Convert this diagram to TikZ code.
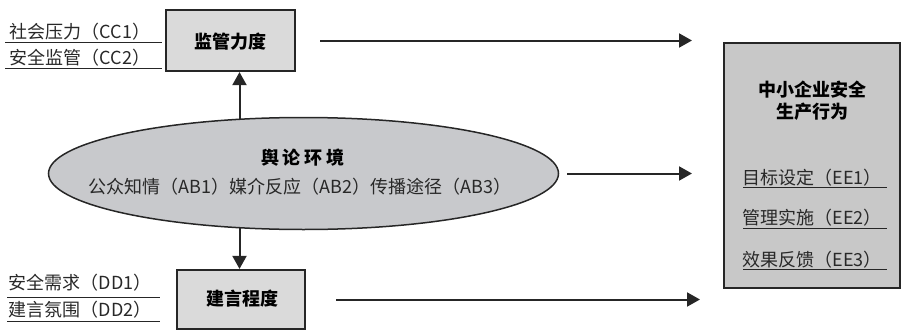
\documentclass[tikz,border=0pt]{standalone}
\usepackage{fontspec}
\newfontfamily\cjk{Noto Sans CJK SC}
\usetikzlibrary{shapes.geometric,arrows.meta}
\definecolor{boxa}{RGB}{218,218,218}
\definecolor{boxb}{RGB}{200,200,200}
\definecolor{ellc}{RGB}{200,201,204}
\definecolor{txt}{RGB}{40,40,40}
\tikzset{
 bx/.style={draw=black!85, line width=2.2pt, inner sep=0pt},
 lbl/.style={font=\cjk\fontsize{18}{18}\selectfont, text=txt, inner sep=0pt},
 ttl/.style={font=\cjk\bfseries\fontsize{18}{18}\selectfont, inner sep=0pt},
 ul/.style={draw=black!85, line width=1pt},
 arr/.style={line width=2pt, draw=black!85, -{Triangle[length=13pt,width=14pt]}},
}
\begin{document}
\begin{tikzpicture}[x=1pt,y=-1pt]
\useasboundingbox (0,0) rectangle (903,332);
% boxes
\node[bx, fill=boxa, minimum width=129pt, minimum height=61pt] (jg) at (230.5,40.5) {};
\node[bx, fill=boxa, minimum width=128pt, minimum height=59pt] (jy) at (241,299.5) {};
\node[draw=black!85, ellipse, fill=ellc, line width=1.5pt, minimum width=510pt, minimum height=112pt, inner sep=0pt] (el) at (303.5,173.5) {};
\node[bx, line width=2pt, fill=boxb, minimum width=176pt, minimum height=245pt] (qy) at (812,165.5) {};
% titles
\node[ttl] (tjg) at (230.5,41.5) {监管力度};
\node[ttl] (tjy) at (242.5,298.5) {建言程度};
\node[ttl] (tel) at (303,158) {舆\hspace{4pt}论\hspace{4pt}环\hspace{4pt}境};
\node[lbl] (sel) at (300,187) {公众知情（AB1）媒介反应（AB2）传播途径（AB3）};
\node[ttl] (tq1) at (812,90) {中小企业安全};
\node[ttl] (tq2) at (812,111.5) {生产行为};
% right items
\node[lbl] (e1) at (812,177.5) {目标设定（EE1）};
\node[lbl] (e2) at (812,217.5) {管理实施（EE2）};
\node[lbl] (e3) at (812,259.5) {效果反馈（EE3）};
\draw[ul] (743,187) -- (887,187);
\draw[ul] (743,228) -- (887,228);
\draw[ul] (743,269) -- (887,269);
% left labels
\node[lbl] (c1) at (80,31.5) {社会压力（CC1）};
\node[lbl] (c2) at (80,57.5) {安全监管（CC2）};
\draw[ul] (5,42) -- (162,42);
\draw[ul] (5,68) -- (162,68);
\node[lbl] (d1) at (80,282.5) {安全需求（DD1）};
\node[lbl] (d2) at (80,309.5) {建言氛围（DD2）};
\draw[ul] (7,297) -- (160,297);
\draw[ul] (7,321) -- (160,321);
% arrows
\draw[arr] ([xshift=24pt]jg.east) -- ([xshift=-31pt]qy.west |- jg.east);
\draw[arr] ([xshift=8pt]el.east) -- ([xshift=-31pt]qy.west |- el.east);
\draw[arr] ([xshift=30pt]jy.east) -- ([xshift=-23pt]qy.west |- jy.east);
\coordinate (u) at (239.5,119);
\coordinate (d) at (239.5,228);
\draw[arr] (u) -- (u |- jg.south);
\draw[arr] (d) -- (d |- jy.north);
\end{tikzpicture}
\end{document}
